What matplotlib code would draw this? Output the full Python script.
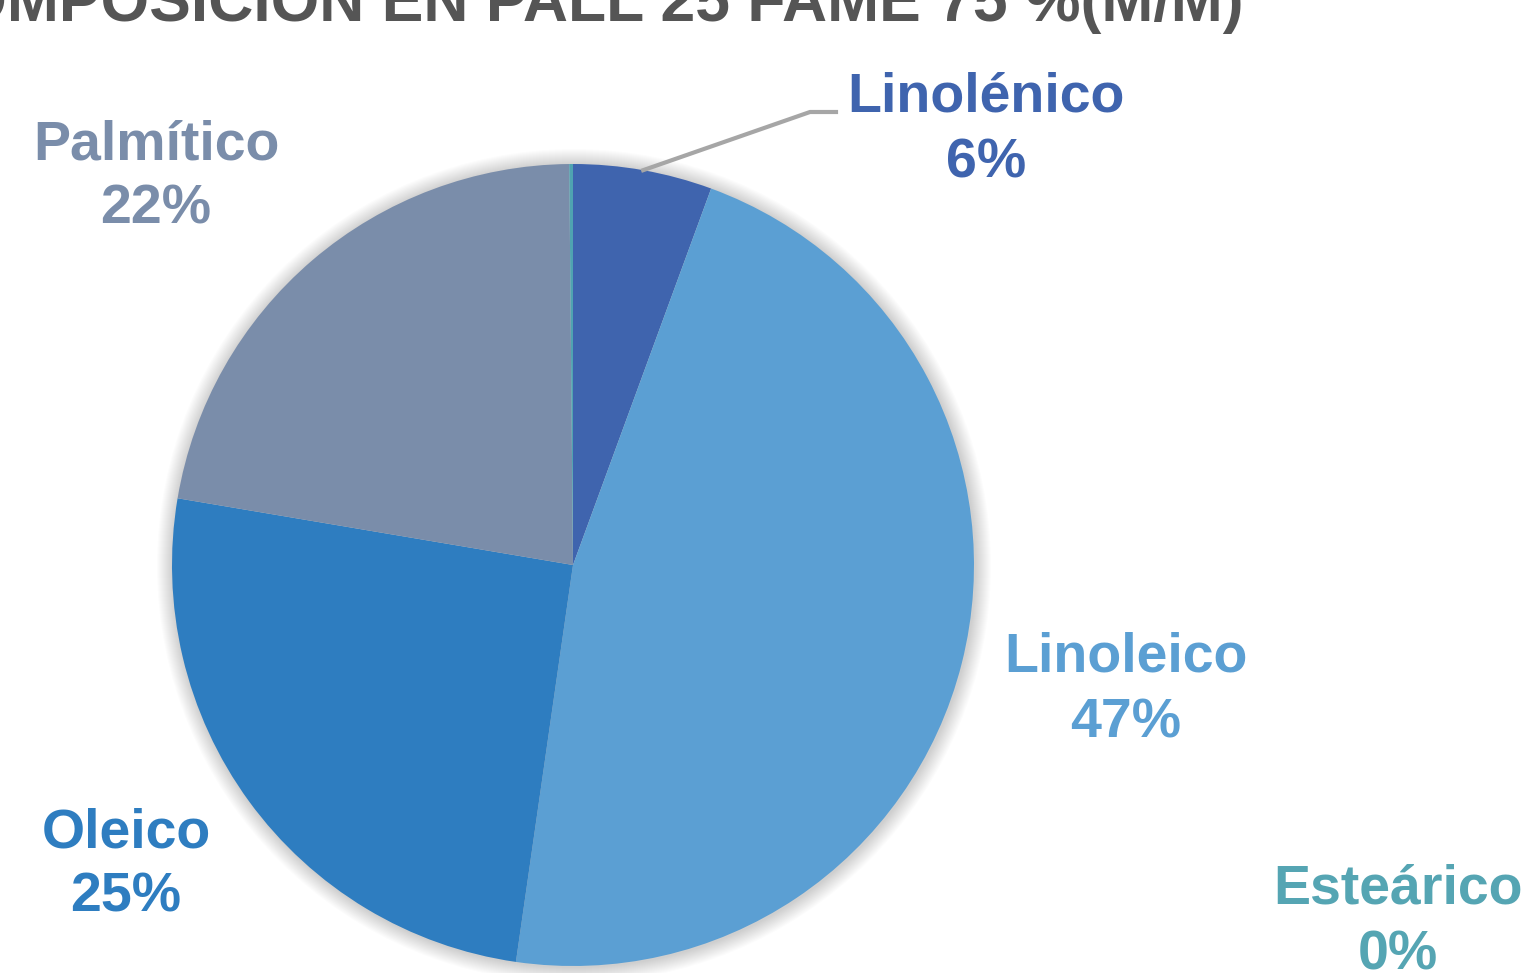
import matplotlib.pyplot as plt
import numpy as np
from matplotlib.patches import Circle

# data
acids = ['Linolénico', 'Linoleico', 'Oleico', 'Palmítico', 'Esteárico']
values = [5.6, 46.7, 25.4, 22.2, 0.15]
labels_pct = ['6%', '47%', '25%', '22%', '0%']
colors = ['#3F64AE', '#5B9FD3', '#2E7DC0', '#7A8DAA', '#4FA3B1']
text_colors = ['#3F64AE', '#5B9FD3', '#2E7DC0', '#7A8DAA', '#55A5B3']
title = 'COMPOSICIÓN EN PALL 25 FAME 75 %(M/M)'

W, H = 1533, 973
fig = plt.figure(figsize=(W / 100, H / 100), dpi=100)
ax = fig.add_axes([0, 0, 1, 1])

cx, cy, r = 573, H - 565, 401

# soft shadow round the pie
for k in range(16, 0, -1):
    ax.add_patch(Circle((cx + 1, cy - 1), r + k, color='#000000', alpha=0.012, lw=0, zorder=0))

wedges, _ = ax.pie(values, colors=colors, startangle=90, counterclock=False,
                   center=(cx, cy), radius=r, frame=True,
                   wedgeprops=dict(linewidth=0))
ax.set_xlim(0, W)
ax.set_ylim(0, H)
ax.set_aspect('equal')
ax.axis('off')

fs = 40
font = 'Liberation Sans'
label_pos = {
    'Linolénico': (986, 98),
    'Linoleico': (1126, 658),
    'Oleico': (126, 833),
    'Palmítico': (156, 145),
    'Esteárico': (1398, 890),
}
for name, pct, tc in zip(acids, labels_pct, text_colors):
    x, y = label_pos[name]
    ax.text(x, H - y, name, color=tc, fontsize=fs, fontweight='bold', family=font,
            ha='center', va='center')
    ax.text(x, H - y - 65, pct, color=tc, fontsize=fs, fontweight='bold', family=font,
            ha='center', va='center')

# leader line for Linolénico, from the mid angle of its wedge
w0 = wedges[0]
mid = np.deg2rad((w0.theta1 + w0.theta2) / 2)
x0, y0 = cx + r * np.cos(mid), cy + r * np.sin(mid)
ax.plot([x0, 810, 836], [y0, H - 112, H - 112], color='#A6A6A6', lw=3, zorder=5)

fig.text(578 / W, 1 - 21 / H, title, color='#555555', fontsize=45, fontweight='bold',
         family=font, ha='center', va='baseline')

fig.savefig('out.png', dpi=100)
